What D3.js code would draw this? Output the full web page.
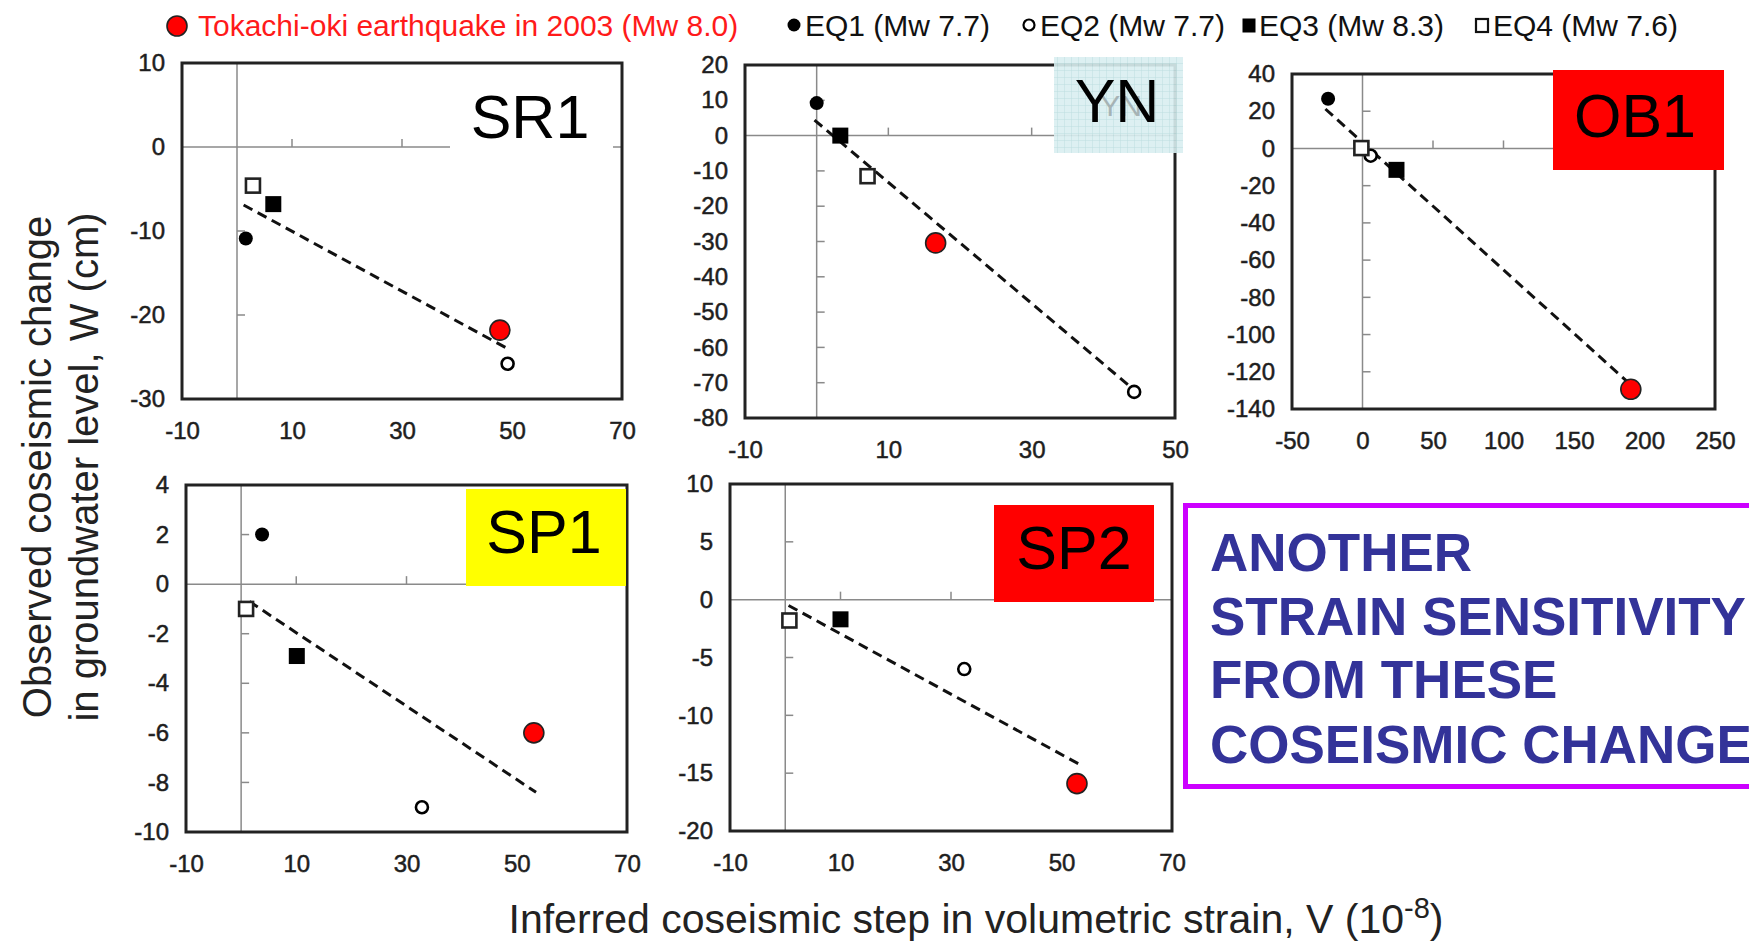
<!DOCTYPE html>
<html>
<head>
<meta charset="utf-8">
<script src="https://cdn.jsdelivr.net/npm/d3@7"></script>
<style>
  html, body { margin: 0; padding: 0; background: #fff; }
  svg { display: block; font-family: "Liberation Sans", Arial, sans-serif; }
</style>
</head>
<body>
<svg id="chart" width="1749" height="941"></svg>
<script>
// ---------------- DATA ----------------
// event order: Tokachi-oki 2003, EQ1, EQ2, EQ3, EQ4
const eventKeys   = ["tokachi", "eq1", "eq2", "eq3", "eq4"];
const eventLabels = ["Tokachi-oki earthquake in 2003 (Mw 8.0)", "EQ1 (Mw 7.7)", "EQ2 (Mw 7.7)", "EQ3 (Mw 8.3)", "EQ4 (Mw 7.6)"];
const stations    = ["SR1", "YN", "OB1", "SP1", "SP2"];

// Inferred coseismic volumetric strain step V (1e-8), per event
const strainSR1 = [47.8, 1.6, 49.2, 6.6, 2.9];
const strainYN  = [16.6, 0.0, 44.3, 3.3, 7.1];
const strainOB1 = [190.3, -24.4, 5.8, 24.1, -0.8];
const strainSP1 = [53.1, 3.8, 32.8, 10.1, 0.9];
const strainSP2 = [52.8, null, 32.4, 10.0, 0.75];

// Observed coseismic groundwater level change W (cm), per event
const waterSR1 = [-21.8, -10.9, -25.8, -6.8, -4.6];
const waterYN  = [-30.4, 9.2, -72.6, 0.0, -11.5];
const waterOB1 = [-129.4, 26.7, -3.9, -11.5, 0.2];
const waterSP1 = [-6.0, 2.0, -9.0, -2.9, -1.0];
const waterSP2 = [-15.9, null, -6.0, -1.7, -1.8];

// Fitted (dashed) lines: [V, W] end points
const fitSR1 = [[1.2, -6.9], [48.9, -23.9]];
const fitYN  = [[-0.3, 4.4], [44.1, -71.7]];
const fitOB1 = [[-26.3, 21.2], [189.1, -126.2]];
const fitSP1 = [[1.5, -0.7], [53.5, -8.4]];
const fitSP2 = [[0.6, -0.5], [53.5, -14.3]];

// Tick labels
const xTicksSR1 = [-10, 10, 30, 50, 70];
const yTicksSR1 = [-30, -20, -10, 0, 10];
const xTicksYN  = [-10, 10, 30, 50];
const yTicksYN  = [-80, -70, -60, -50, -40, -30, -20, -10, 0, 10, 20];
const xTicksOB1 = [-50, 0, 50, 100, 150, 200, 250];
const yTicksOB1 = [-140, -120, -100, -80, -60, -40, -20, 0, 20, 40];
const xTicksSP1 = [-10, 10, 30, 50, 70];
const yTicksSP1 = [-10, -8, -6, -4, -2, 0, 2, 4];
const xTicksSP2 = [-10, 10, 30, 50, 70];
const yTicksSP2 = [-20, -15, -10, -5, 0, 5, 10];

const noteLines = ["ANOTHER", "STRAIN SENSITIVITY", "FROM THESE", "COSEISMIC CHANGE"];

// ---------------- LAYOUT ----------------
const panels = [
  { name: stations[0], V: strainSR1, W: waterSR1, fit: fitSR1, xt: xTicksSR1, yt: yTicksSR1,
    L: 182, R: 622, T: 63, B: 399,
    box: { x: 450, y: 72, w: 163, h: 95, fill: "#ffffff" }, lab: { x: 530, y: 138 } },
  { name: stations[1], V: strainYN, W: waterYN, fit: fitYN, xt: xTicksYN, yt: yTicksYN,
    L: 745, R: 1175, T: 65, B: 418,
    box: { x: 1054, y: 57, w: 129, h: 96, fill: "url(#grid)" }, lab: { x: 1117, y: 122 } },
  { name: stations[2], V: strainOB1, W: waterOB1, fit: fitOB1, xt: xTicksOB1, yt: yTicksOB1,
    L: 1292, R: 1715, T: 74, B: 409,
    box: { x: 1553, y: 70, w: 171, h: 100, fill: "#ff0000" }, lab: { x: 1635, y: 137 } },
  { name: stations[3], V: strainSP1, W: waterSP1, fit: fitSP1, xt: xTicksSP1, yt: yTicksSP1,
    L: 186, R: 627, T: 485, B: 832,
    box: { x: 466, y: 489, w: 160, h: 97, fill: "#ffff00" }, lab: { x: 544, y: 553 } },
  { name: stations[4], V: strainSP2, W: waterSP2, fit: fitSP2, xt: xTicksSP2, yt: yTicksSP2,
    L: 730, R: 1172, T: 484, B: 831,
    box: { x: 994, y: 505, w: 160, h: 97, fill: "#ff0000" }, lab: { x: 1074, y: 569 } }
];

const svg = d3.select("#chart");

// grid pattern for YN box
const defs = svg.append("defs");
const pat = defs.append("pattern").attr("id", "grid").attr("patternUnits", "userSpaceOnUse")
  .attr("width", 7).attr("height", 7);
pat.append("rect").attr("width", 7).attr("height", 7).attr("fill", "#d9eef0");
pat.append("path").attr("d", "M7 0 L0 0 L0 7").attr("fill", "none").attr("stroke", "#b6dadd").attr("stroke-width", 1);

function drawMarker(g, key, cx, cy) {
  if (key === "tokachi") {
    g.append("circle").attr("cx", cx).attr("cy", cy).attr("r", 10)
      .attr("fill", "#ff0000").attr("stroke", "#222").attr("stroke-width", 1.6);
  } else if (key === "eq1") {
    g.append("circle").attr("cx", cx).attr("cy", cy).attr("r", 7).attr("fill", "#000");
  } else if (key === "eq2") {
    g.append("circle").attr("cx", cx).attr("cy", cy).attr("r", 6)
      .attr("fill", "#fff").attr("stroke", "#000").attr("stroke-width", 2.6);
  } else if (key === "eq3") {
    g.append("rect").attr("x", cx - 8).attr("y", cy - 8).attr("width", 16).attr("height", 16).attr("fill", "#000");
  } else if (key === "eq4") {
    g.append("rect").attr("x", cx - 7).attr("y", cy - 7).attr("width", 14).attr("height", 14)
      .attr("fill", "#fff").attr("stroke", "#222").attr("stroke-width", 2.6);
  }
}

panels.forEach(p => {
  const g = svg.append("g");
  const x = d3.scaleLinear().domain([p.xt[0], p.xt[p.xt.length - 1]]).range([p.L, p.R]);
  const y = d3.scaleLinear().domain([p.yt[0], p.yt[p.yt.length - 1]]).range([p.B, p.T]);

  // plot background
  g.append("rect").attr("x", p.L).attr("y", p.T).attr("width", p.R - p.L).attr("height", p.B - p.T).attr("fill", "#fff");

  // zero lines
  g.append("line").attr("x1", x(0)).attr("x2", x(0)).attr("y1", p.T).attr("y2", p.B)
    .attr("stroke", "#8a8a8a").attr("stroke-width", 1.5);
  g.append("line").attr("x1", p.L).attr("x2", p.R).attr("y1", y(0)).attr("y2", y(0))
    .attr("stroke", "#8a8a8a").attr("stroke-width", 1.5);

  // inner ticks on zero lines
  p.xt.slice(1, -1).filter(v => v !== 0).forEach(v => {
    g.append("line").attr("x1", x(v)).attr("x2", x(v)).attr("y1", y(0)).attr("y2", y(0) - 8)
      .attr("stroke", "#8a8a8a").attr("stroke-width", 1.5);
  });
  p.yt.slice(1, -1).filter(v => v !== 0).forEach(v => {
    g.append("line").attr("x1", x(0)).attr("x2", x(0) + 8).attr("y1", y(v)).attr("y2", y(v))
      .attr("stroke", "#8a8a8a").attr("stroke-width", 1.5);
  });

  // axes (labels only), plain hyphen minus as in the original
  const fmt = d => String(d);
  const ax = g.append("g").attr("transform", `translate(0,${p.B})`)
    .call(d3.axisBottom(x).tickValues(p.xt).tickSize(0).tickPadding(23).tickFormat(fmt));
  const ay = g.append("g").attr("transform", `translate(${p.L},0)`)
    .call(d3.axisLeft(y).tickValues(p.yt).tickSize(0).tickPadding(17).tickFormat(fmt));
  [ax, ay].forEach(a => {
    a.select(".domain").remove();
    a.selectAll("text").attr("font-size", 24).attr("fill", "#1e1e1e")
      .attr("font-family", "'Liberation Sans', Arial, sans-serif")
      .attr("stroke", "#1e1e1e").attr("stroke-width", 0.5);
  });

  // frame
  g.append("rect").attr("x", p.L).attr("y", p.T).attr("width", p.R - p.L).attr("height", p.B - p.T)
    .attr("fill", "none").attr("stroke", "#222").attr("stroke-width", 3);

  // fit line
  g.append("path").datum(p.fit)
    .attr("d", d3.line().x(d => x(d[0])).y(d => y(d[1])))
    .attr("fill", "none").attr("stroke", "#111").attr("stroke-width", 3)
    .attr("stroke-dasharray", "10,6");

  // markers
  eventKeys.forEach((k, i) => {
    if (p.V[i] == null || p.W[i] == null) return;
    drawMarker(g, k, x(p.V[i]), y(p.W[i]));
  });

  // station label box
  const bx = g.append("rect").attr("x", p.box.x).attr("y", p.box.y).attr("width", p.box.w).attr("height", p.box.h)
    .attr("fill", p.box.fill);
  if (p.name === "YN") {
    bx.attr("opacity", 0.9);
    g.append("text").attr("x", p.lab.x + 4).attr("y", p.lab.y - 6).attr("text-anchor", "middle")
      .attr("font-size", 30).attr("fill", "#9aa6a8").attr("opacity", 0.8).text(p.name);
  }
  g.append("text").attr("x", p.lab.x).attr("y", p.lab.y).attr("text-anchor", "middle")
    .attr("font-size", 61).attr("fill", "#000").text(p.name);
});

// ---------------- LEGEND ----------------
const legendPos = [
  { mx: 177, tx: 198 },
  { mx: 794, tx: 805 },
  { mx: 1029, tx: 1040 },
  { mx: 1249, tx: 1259 },
  { mx: 1482, tx: 1493 }
];
const lg = svg.append("g");
eventKeys.forEach((k, i) => {
  const lp = legendPos[i];
  if (k === "tokachi") drawMarker(lg, k, lp.mx, 26);
  else if (k === "eq1") lg.append("circle").attr("cx", lp.mx).attr("cy", 25).attr("r", 6.5).attr("fill", "#000");
  else if (k === "eq2") lg.append("circle").attr("cx", lp.mx).attr("cy", 25).attr("r", 5.5).attr("fill", "#fff").attr("stroke", "#000").attr("stroke-width", 2.2);
  else if (k === "eq3") lg.append("rect").attr("x", lp.mx - 6.5).attr("y", 18.5).attr("width", 13).attr("height", 14).attr("fill", "#000");
  else lg.append("rect").attr("x", lp.mx - 6).attr("y", 19).attr("width", 12).attr("height", 13).attr("fill", "#fff").attr("stroke", "#111").attr("stroke-width", 2.2);
  lg.append("text").attr("x", lp.tx).attr("y", 36).attr("font-size", 30)
    .attr("fill", k === "tokachi" ? "#ff1a1a" : "#111").text(eventLabels[i]);
});

// ---------------- AXIS TITLES ----------------
const yt = svg.append("text").attr("transform", "translate(0,467) rotate(-90)")
  .attr("text-anchor", "middle").attr("font-size", 40).attr("fill", "#222");
yt.append("tspan").attr("x", 0).attr("y", 51).text("Observed coseismic change");
yt.append("tspan").attr("x", 0).attr("y", 98).text("in groundwater level, W (cm)");

const xt = svg.append("text").attr("x", 976).attr("y", 933).attr("text-anchor", "middle")
  .attr("font-size", 41).attr("fill", "#222");
xt.append("tspan").text("Inferred coseismic step in volumetric strain, V (10");
xt.append("tspan").attr("font-size", 29).attr("dy", -15).text("-8");
xt.append("tspan").attr("dy", 15).text(")");

// ---------------- NOTE BOX ----------------
const ng = svg.append("g");
ng.append("rect").attr("x", 1185.5).attr("y", 505.5).attr("width", 620).attr("height", 281)
  .attr("fill", "#fff").attr("stroke", "#cc00ff").attr("stroke-width", 5);
const noteBase = [571, 635, 698, 763];
noteLines.forEach((t, i) => {
  ng.append("text").attr("x", 1210).attr("y", noteBase[i]).attr("font-size", 53)
    .attr("font-weight", "bold").attr("fill", "#333399").text(t);
});
</script>
</body>
</html>
